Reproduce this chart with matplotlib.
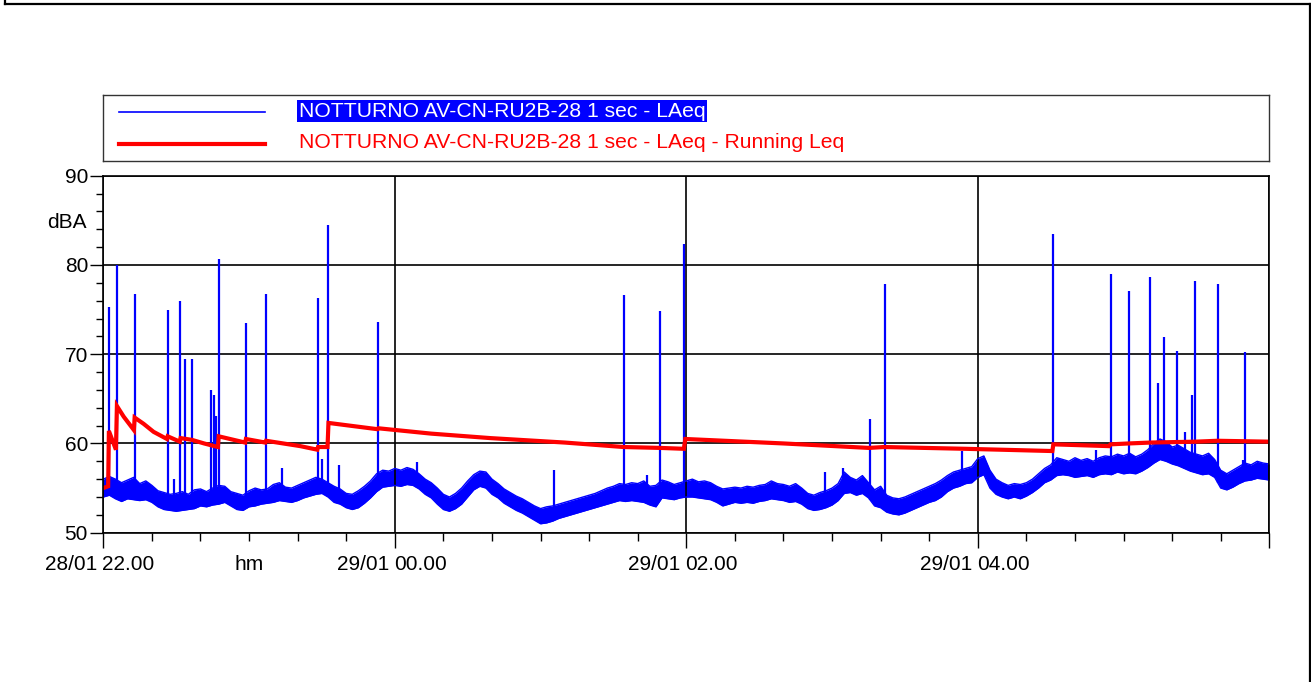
import numpy as np
import matplotlib
matplotlib.use("Agg")
import matplotlib.pyplot as plt
import matplotlib.transforms as mtransforms
from matplotlib.lines import Line2D

plt.rcParams['font.family'] = ['Liberation Sans', 'DejaVu Sans']
plt.rcParams['font.size'] = 15

# time axis: minutes after 28/01 22:00
# 1 s LAeq background band, read every 2.5 minutes (upper / lower edge, dBA)
band_t = [i * 2.5 for i in range(193)]
band_hi = [56.0, 56.3, 56.0, 55.6, 55.9, 56.2, 55.5, 55.8, 55.3, 54.7,
           54.5, 54.3, 54.4, 54.6, 54.3, 54.8, 54.9, 54.6, 55.0, 55.3,
           55.2, 54.6, 54.4, 54.2, 54.7, 55.0, 54.8, 54.9, 55.4, 55.6,
           55.1, 55.0, 55.3, 55.6, 55.9, 56.2, 56.0, 55.6, 55.2, 54.9,
           54.4, 54.3, 54.7, 55.2, 55.8, 56.6, 57.0, 56.9, 57.2, 57.0,
           57.3, 57.1, 56.6, 56.0, 55.6, 55.0, 54.3, 54.0, 54.4, 55.0,
           55.8, 56.5, 56.9, 56.8, 56.0, 55.5, 54.9, 54.5, 54.1, 53.8,
           53.4, 53.0, 52.7, 52.9, 53.0, 53.2, 53.4, 53.6, 53.8, 54.0,
           54.2, 54.4, 54.7, 55.0, 55.2, 55.5, 55.4, 55.6, 55.5, 55.8,
           55.2, 55.3, 55.9, 55.7, 55.4, 55.6, 55.8, 56.0, 55.7, 55.8,
           55.6, 55.2, 54.9, 55.0, 55.1, 55.0, 55.2, 55.1, 55.3, 55.4,
           55.8, 55.5, 55.4, 55.2, 55.5, 55.0, 54.4, 54.2, 54.5, 54.7,
           55.0, 55.5, 56.8, 56.2, 55.9, 56.4, 55.6, 54.8, 55.2, 54.2,
           53.9, 53.8, 54.0, 54.3, 54.6, 54.9, 55.2, 55.5, 55.9, 56.4,
           56.8, 57.0, 57.2, 57.4, 58.3, 58.6, 57.0, 56.0, 55.6, 55.3,
           55.5, 55.4, 55.6, 56.0, 56.6, 57.2, 57.6, 58.4, 58.2, 58.0,
           58.4, 58.1, 58.3, 58.0, 58.4, 58.6, 58.5, 58.8, 58.6, 58.9,
           58.5, 58.8, 59.3, 60.0, 60.5, 60.2, 59.6, 59.8, 59.4, 59.0,
           58.8, 58.6, 58.9, 58.2, 57.0, 56.6, 57.0, 57.4, 57.8, 57.6,
           58.0, 57.8, 57.7]
band_lo = [54.0, 54.2, 53.8, 53.5, 53.8, 53.7, 53.6, 53.7, 53.4, 52.9,
           52.6, 52.5, 52.4, 52.5, 52.6, 52.7, 53.0, 52.9, 53.1, 53.2,
           53.4, 53.0, 52.6, 52.5, 52.9, 53.0, 53.2, 53.3, 53.4, 53.6,
           53.5, 53.4, 53.6, 53.9, 54.1, 54.3, 54.4, 54.0, 53.4, 53.2,
           52.8, 52.6, 52.8, 53.3, 53.9, 54.6, 55.1, 55.2, 55.3, 55.2,
           55.4, 55.3, 54.9, 54.3, 53.9, 53.2, 52.6, 52.4, 52.7, 53.2,
           54.0, 54.8, 55.2, 55.0, 54.3, 53.9, 53.3, 52.9, 52.5, 52.2,
           51.8, 51.4, 51.0, 51.1, 51.3, 51.6, 51.8, 52.0, 52.2, 52.4,
           52.6, 52.8, 53.0, 53.2, 53.4, 53.6, 53.5, 53.6, 53.5, 53.4,
           53.1, 52.9, 53.9, 53.8, 53.7, 53.9, 54.0, 54.0, 53.9, 53.8,
           53.7, 53.4, 53.0, 53.2, 53.4, 53.3, 53.4, 53.3, 53.5, 53.6,
           53.8, 53.7, 53.6, 53.4, 53.5, 53.2, 52.7, 52.5, 52.6, 52.8,
           53.1, 53.6, 54.4, 54.5, 54.2, 54.4, 53.9, 53.0, 52.8, 52.3,
           52.1, 52.0, 52.2, 52.5, 52.8, 53.1, 53.4, 53.6, 54.0, 54.6,
           55.0, 55.2, 55.5, 55.6, 56.2, 56.5, 55.0, 54.3, 54.0, 53.8,
           54.0, 53.8, 54.1, 54.5, 55.0, 55.6, 55.9, 56.4, 56.5, 56.4,
           56.2, 56.3, 56.4, 56.2, 56.5, 56.6, 56.5, 56.8, 56.6, 56.7,
           56.6, 56.9, 57.3, 57.8, 58.2, 58.0, 57.7, 57.5, 57.2, 56.9,
           56.7, 56.5, 56.6, 56.2, 55.0, 54.8, 55.1, 55.5, 55.8, 55.9,
           56.1, 56.0, 55.9]

# short noise events (minute, peak dBA)
spike_t = [2.5, 5.5, 12.9, 26.5, 29.1, 31.6, 33.8, 36.5, 44.4, 45.5,
           46.4, 47.5, 58.6, 66.9, 73.6, 88.3, 89.9, 92.4, 97.1, 113.1,
           129.1, 185.7, 214.2, 223.9, 229.3, 239.2, 297.0, 304.5, 315.6, 321.6,
           353.4, 391.0, 408.6, 414.7, 422.1, 430.7, 434.3, 436.5, 442.0, 445.2,
           448.3, 449.4, 458.8, 469.0, 470.1]
spike_db = [75.3, 80.0, 76.7, 74.9, 56.0, 76.0, 69.5, 69.5, 66.0, 65.4,
            63.1, 80.7, 73.5, 76.8, 57.2, 76.3, 58.3, 84.5, 57.6, 73.6,
            57.9, 57.0, 76.6, 56.5, 74.8, 82.4, 56.8, 57.2, 62.7, 77.9,
            59.1, 83.5, 59.3, 79.0, 77.1, 78.6, 66.8, 71.9, 70.4, 61.3,
            65.4, 78.2, 77.9, 58.1, 70.2]

# running Leq
leq_t = [0, 2.0, 2.3, 5.2, 5.6, 8.4, 12.6, 12.9, 16.6, 20.7,
         26.2, 26.5, 31.5, 31.8, 36.5, 41.5, 47.2, 47.5, 58.4, 58.7,
         66.7, 67.0, 81.1, 88.1, 88.4, 92.3, 92.7, 112.8, 113.2, 135,
         159.3, 190, 214.2, 229.3, 239.0, 239.6, 280, 315.2, 321.4, 355,
         390.7, 391.1, 414.0, 414.6, 422.2, 431.1, 449.7, 458.6, 480]
leq_db = [55.0, 55.2, 61.4, 59.3, 64.2, 63.0, 61.5, 62.9, 62.2, 61.3,
          60.5, 60.8, 60.2, 60.6, 60.4, 60.0, 59.6, 60.8, 60.1, 60.5,
          60.1, 60.3, 59.7, 59.3, 59.6, 59.6, 62.3, 61.6, 61.7, 61.1,
          60.6, 60.1, 59.6, 59.5, 59.4, 60.5, 60.0, 59.5, 59.6, 59.4,
          59.15, 59.9, 59.7, 59.9, 60.0, 60.1, 60.2, 60.3, 60.2]

tick_dates = ['28/01', '29/01', '29/01', '29/01']
tick_times = ['22.00', '00.00', '02.00', '04.00']

label_1 = 'NOTTURNO AV-CN-RU2B-28 1 sec - LAeq'
label_2 = 'NOTTURNO AV-CN-RU2B-28 1 sec - LAeq - Running Leq'

BLUE = '#0000ff'
RED = '#ff0000'
W, H = 1311, 682

fig = plt.figure(figsize=(W / 100, H / 100), dpi=100)

# page frame
for xs, ys in [([5, 5], [0, 4]), ([5, 1309.5], [4, 4]), ([1309.5, 1309.5], [4, 682])]:
    fig.add_artist(Line2D([x / W for x in xs], [1 - y / H for y in ys],
                          color='black', lw=1.6))

ax = fig.add_axes([103.3 / W, 1 - 532.7 / H, 1166 / W, 357 / H])
ax.fill_between(band_t, band_lo, band_hi, color=BLUE, lw=0)
ax.plot(band_t, band_hi, color=BLUE, lw=1.0)
ax.plot(band_t, band_lo, color=BLUE, lw=1.0)
spike_base = np.interp(spike_t, band_t, band_lo)
ax.vlines(spike_t, spike_base, spike_db, color=BLUE, lw=1.6)
ax.plot(leq_t, leq_db, color=RED, lw=3, solid_joinstyle='miter')

ax.set_xlim(0, 480)
ax.set_ylim(50, 90)
ax.set_xticks(range(0, 481, 120))
ax.set_xticks(range(0, 481, 20), minor=True)
ax.set_yticks(range(50, 91, 10))
ax.set_yticks(range(50, 91, 2), minor=True)
ax.grid(which='major', color='black', lw=1.2)
ax.tick_params(axis='x', which='major', length=11, width=1, labelbottom=False)
ax.tick_params(axis='x', which='minor', length=5.5, width=1)
ax.tick_params(axis='y', which='major', length=9.5, width=1, pad=1.5, labelsize=15)
ax.tick_params(axis='y', which='minor', length=5, width=1)
for s in ax.spines.values():
    s.set_linewidth(1.2)

# x labels: date left of the tick, time starting at the tick
trans = mtransforms.blended_transform_factory(ax.transData, ax.transAxes)
lab_y = -(570 - 532.7) / 357
for i, (d, tm) in enumerate(zip(tick_dates, tick_times)):
    xpos = i * 120
    ax.text(xpos, lab_y, d, ha='right', va='baseline', fontsize=15,
            transform=trans + mtransforms.ScaledTranslation(-6 / 100, 0, fig.dpi_scale_trans))
    ax.text(xpos, lab_y, tm, ha='left', va='baseline', fontsize=15,
            transform=trans + mtransforms.ScaledTranslation(-1 / 100, 0, fig.dpi_scale_trans))
ax.text(60, lab_y, 'hm', ha='center', va='baseline', fontsize=15, transform=trans)

fig.text(87 / W, 1 - 228 / H, 'dBA', ha='right', va='baseline', fontsize=15)

# legend box
lax = fig.add_axes([103.3 / W, 1 - 161 / H, 1166 / W, 66 / H])
lax.set_xticks([])
lax.set_yticks([])
for s in lax.spines.values():
    s.set_color('#333333')
    s.set_linewidth(1)
fig.add_artist(Line2D([119 / W, 265 / W], [1 - 112 / H] * 2, color=BLUE, lw=1.2))
fig.add_artist(Line2D([119 / W, 265 / W], [1 - 144 / H] * 2, color=RED, lw=3))
fig.text(299 / W, 1 - 116.7 / H, label_1, ha='left', va='baseline', fontsize=15.2,
         color='white', bbox=dict(boxstyle='square,pad=0.08', facecolor=BLUE, edgecolor='none'))
fig.text(299 / W, 1 - 148 / H, label_2, ha='left', va='baseline', fontsize=15.2, color=RED)

fig.savefig('out.png', dpi=100)
